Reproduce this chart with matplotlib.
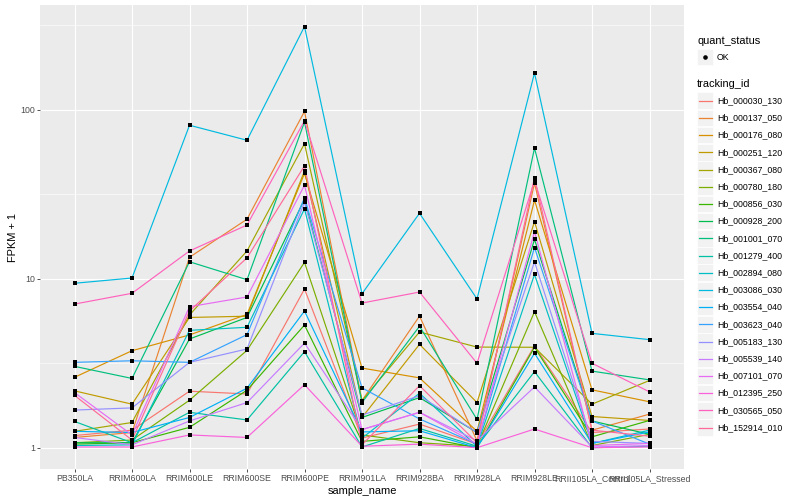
import matplotlib
matplotlib.use('Agg')
import matplotlib.pyplot as plt
import numpy as np
from matplotlib.patches import Rectangle
from matplotlib.lines import Line2D

samples = ['PB350LA', 'RRIM600LA', 'RRIM600LE', 'RRIM600SE', 'RRIM600PE', 'RRIM901LA',
           'RRIM928BA', 'RRIM928LA', 'RRIM928LE', 'RRII105LA_Control', 'RRII105LA_Stressed']

tracking_ids = ['Hb_000030_130', 'Hb_000137_050', 'Hb_000176_080', 'Hb_000251_120',
                'Hb_000367_080', 'Hb_000780_180', 'Hb_000856_030', 'Hb_000928_200',
                'Hb_001001_070', 'Hb_001279_400', 'Hb_002894_080', 'Hb_003086_030',
                'Hb_003554_040', 'Hb_003623_040', 'Hb_005183_130', 'Hb_005539_140',
                'Hb_007101_070', 'Hb_012395_250', 'Hb_030565_050', 'Hb_152914_010']

# FPKM + 1, one list per tracking_id, in sample order
Hb_000030_130 = [1.18, 1.27, 2.16, 2.08, 8.69, 1.14, 1.38, 1.05, 4.01, 1.23, 1.29]
Hb_000137_050 = [1.15, 1.23, 13.4, 22.5, 97.8, 1.90, 6.01, 1.10, 36.8, 1.27, 1.58]
Hb_000176_080 = [2.61, 3.75, 4.65, 6.15, 42.0, 2.96, 2.59, 1.25, 29.2, 2.20, 1.87]
Hb_000251_120 = [2.17, 1.81, 5.90, 6.00, 43.4, 1.51, 4.09, 1.85, 21.8, 1.53, 1.45]
Hb_000367_080 = [1.25, 1.41, 6.10, 14.6, 63.0, 1.90, 4.84, 3.94, 3.93, 1.81, 2.50]
Hb_000780_180 = [1.07, 1.11, 1.91, 3.77, 12.5, 1.19, 1.07, 1.02, 6.38, 1.03, 1.20]
Hb_000856_030 = [1.05, 1.07, 1.32, 2.19, 5.32, 1.09, 1.16, 1.00, 3.93, 1.16, 1.45]
Hb_000928_200 = [1.07, 1.07, 4.40, 5.90, 29.5, 1.51, 1.98, 1.23, 17.1, 1.44, 1.20]
Hb_001001_070 = [3.03, 2.57, 12.6, 9.87, 84.6, 1.85, 5.23, 1.47, 59.3, 2.84, 2.52]
Hb_001279_400 = [1.43, 1.07, 1.62, 1.46, 3.70, 1.01, 1.30, 1.02, 2.82, 1.00, 1.02]
Hb_002894_080 = [1.03, 1.04, 4.95, 5.16, 25.9, 1.14, 2.10, 1.02, 10.6, 1.06, 1.27]
Hb_003086_030 = [9.40, 10.1, 81.0, 66.0, 311.0, 8.15, 24.4, 7.60, 165.0, 4.75, 4.36]
Hb_003554_040 = [1.25, 1.23, 1.51, 2.25, 6.44, 1.24, 1.26, 1.00, 3.62, 1.06, 1.24]
Hb_003623_040 = [3.20, 3.27, 3.20, 4.67, 30.1, 2.26, 1.48, 1.05, 15.3, 1.44, 1.05]
Hb_005183_130 = [1.67, 1.72, 3.20, 3.84, 28.4, 1.56, 2.03, 1.23, 12.6, 1.09, 1.06]
Hb_005539_140 = [1.15, 1.04, 1.44, 1.85, 4.16, 1.28, 1.62, 1.10, 2.29, 1.01, 1.03]
Hb_007101_070 = [2.12, 1.19, 6.83, 7.80, 35.8, 1.28, 1.62, 1.05, 19.0, 1.03, 1.06]
Hb_012395_250 = [1.01, 1.01, 1.19, 1.15, 2.36, 1.02, 1.05, 1.00, 1.29, 1.00, 1.01]
Hb_030565_050 = [7.08, 8.20, 14.6, 20.8, 86.0, 7.18, 8.34, 3.16, 38.0, 3.16, 2.14]
Hb_152914_010 = [2.04, 1.11, 6.44, 13.3, 46.6, 1.04, 2.33, 1.07, 39.6, 1.27, 1.17]

series = [Hb_000030_130, Hb_000137_050, Hb_000176_080, Hb_000251_120, Hb_000367_080,
          Hb_000780_180, Hb_000856_030, Hb_000928_200, Hb_001001_070, Hb_001279_400,
          Hb_002894_080, Hb_003086_030, Hb_003554_040, Hb_003623_040, Hb_005183_130,
          Hb_005539_140, Hb_007101_070, Hb_012395_250, Hb_030565_050, Hb_152914_010]


def hcl_to_rgb(h, c=100.0, l=65.0):
    # polar Luv -> sRGB, like R's hcl()
    xn, yn, zn = 95.047, 100.0, 108.883
    un = 4 * xn / (xn + 15 * yn + 3 * zn)
    vn = 9 * yn / (xn + 15 * yn + 3 * zn)
    u = c * np.cos(np.radians(h))
    v = c * np.sin(np.radians(h))
    y = yn * ((l + 16) / 116) ** 3
    up = u / (13 * l) + un
    vp = v / (13 * l) + vn
    x = y * 9 * up / (4 * vp)
    z = y * (12 - 3 * up - 20 * vp) / (4 * vp)
    x, y, z = x / 100, y / 100, z / 100
    r = 3.240479 * x - 1.537150 * y - 0.498535 * z
    g = -0.969256 * x + 1.875992 * y + 0.041556 * z
    b = 0.055648 * x - 0.204043 * y + 1.057311 * z
    out = []
    for ch in (r, g, b):
        ch = 12.92 * ch if ch <= 0.0031308 else 1.055 * ch ** (1 / 2.4) - 0.055
        out.append(min(max(ch, 0), 1))
    return tuple(out)


hues = np.linspace(15, 375, len(tracking_ids) + 1)[:-1]
colors = [hcl_to_rgb(h) for h in hues]

plt.rcParams['font.family'] = ['Liberation Sans', 'DejaVu Sans']

fig = plt.figure(figsize=(8, 5), dpi=100)
ax = fig.add_axes([40 / 800, 1 - 469 / 500, 644 / 800, 464 / 500])
ax.set_facecolor('#EBEBEB')

x = np.arange(len(samples))
for vals, col in zip(series, colors):
    ax.plot(x, vals, color=col, lw=0.85, zorder=2)
for vals in series:
    ax.scatter(x, vals, s=7, color='black', marker='s', zorder=3, linewidths=0)

ax.set_yscale('log')
ax.set_ylim(10 ** -0.126, 10 ** 2.62)
ax.set_xlim(-0.6, len(samples) - 0.4)
ax.set_yticks([1, 10, 100])
ax.set_yticklabels(['1', '10', '100'])
ax.set_yticks([10 ** 0.5, 10 ** 1.5, 10 ** 2.5], minor=True)
ax.yaxis.set_minor_formatter(matplotlib.ticker.NullFormatter())
ax.set_xticks(x)
ax.set_xticklabels(samples)
ax.grid(which='major', color='white', lw=0.8)
ax.grid(which='minor', axis='y', color='white', lw=0.4)
ax.set_axisbelow(True)
ax.tick_params(which='major', length=2, width=0.6, color='#333333', labelcolor='#4D4D4D',
               labelsize=6.3, pad=1.5)
ax.tick_params(which='minor', length=0)
for s in ax.spines.values():
    s.set_visible(False)
ax.set_xlabel('sample_name', fontsize=7.9, labelpad=2)
ax.set_ylabel('FPKM + 1', fontsize=7.9, labelpad=2)

# legends drawn in pixel coordinates
lg = fig.add_axes([0, 0, 1, 1])
lg.set_xlim(0, 800)
lg.set_ylim(500, 0)
lg.axis('off')
lg.text(697, 41, 'quant_status', fontsize=7.9, va='center', ha='left')
lg.add_patch(Rectangle((697, 49), 16, 16, facecolor='#F2F2F2', edgecolor='white', lw=0.5))
lg.add_line(Line2D([705], [57.3], marker='o', ms=2.3, color='black', lw=0))
lg.text(717, 57.3, 'OK', fontsize=6.3, va='center', ha='left')

lg.text(697, 84, 'tracking_id', fontsize=7.9, va='center', ha='left')
for i, (name, col) in enumerate(zip(tracking_ids, colors)):
    yc = 100.7 + i * 17.2
    lg.add_patch(Rectangle((697, yc - 8.3), 16, 16.6, facecolor='#F2F2F2', edgecolor='white', lw=0.5))
    lg.add_line(Line2D([698.5, 711.5], [yc, yc], color=col, lw=0.9))
    lg.text(717, yc, name, fontsize=6.3, va='center', ha='left')

fig.savefig('out.png', dpi=100)
